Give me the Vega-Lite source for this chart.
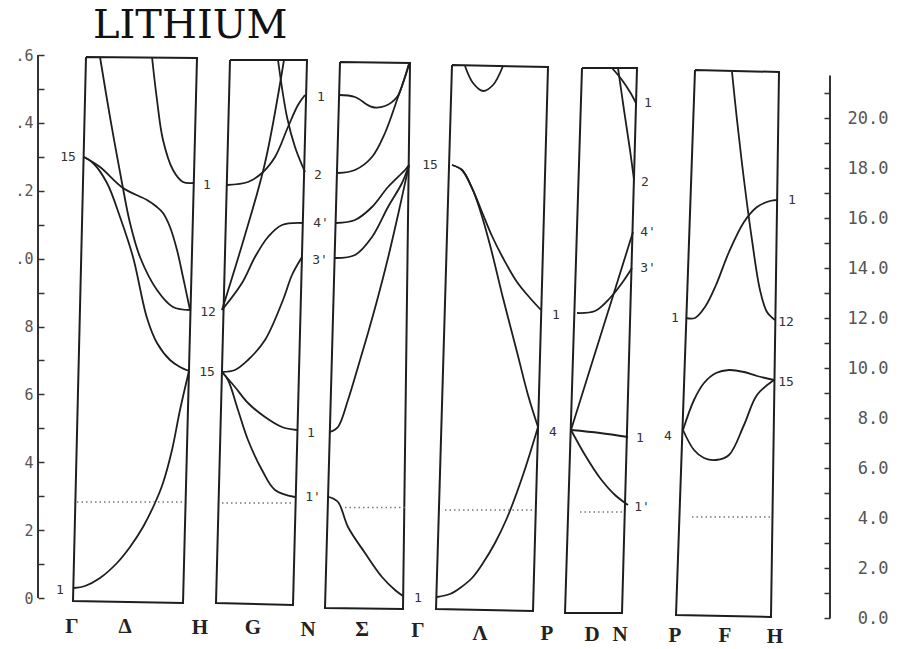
{
 "$schema": "https://vega.github.io/schema/vega-lite/v6.json",
 "width": 792, "height": 565,
 "autosize": {"type": "none"},
 "padding": {"left": 38, "top": 55, "right": 83, "bottom": 29},
 "background": "white",
 "config": {"view": {"stroke": null}},
 "datasets": {
  "axL": [{"k": 0, "e": 0, "e2": 1.6}],
  "axR": [{"k": 792, "e": 0, "e2": 21.7}],
  "ttl": [{"t": "LITHIUM", "k": 55, "e": 23.2}],
  "frames": [
   {"p": 1, "i": 0, "k": 48, "e": 22.44}, {"p": 1, "i": 1, "k": 159, "e": 22.40}, {"p": 1, "i": 2, "k": 145, "e": 0.60}, {"p": 1, "i": 3, "k": 35, "e": 0.68}, {"p": 1, "i": 4, "k": 48, "e": 22.44},
   {"p": 2, "i": 0, "k": 192, "e": 22.32}, {"p": 2, "i": 1, "k": 269, "e": 22.32}, {"p": 2, "i": 2, "k": 255, "e": 0.52}, {"p": 2, "i": 3, "k": 178, "e": 0.60}, {"p": 2, "i": 4, "k": 192, "e": 22.32},
   {"p": 3, "i": 0, "k": 302, "e": 22.24}, {"p": 3, "i": 1, "k": 372, "e": 22.20}, {"p": 3, "i": 2, "k": 365, "e": 0.36}, {"p": 3, "i": 3, "k": 287, "e": 0.40}, {"p": 3, "i": 4, "k": 302, "e": 22.24},
   {"p": 4, "i": 0, "k": 414, "e": 22.12}, {"p": 4, "i": 1, "k": 510, "e": 22.04}, {"p": 4, "i": 2, "k": 495, "e": 0.28}, {"p": 4, "i": 3, "k": 398, "e": 0.36}, {"p": 4, "i": 4, "k": 414, "e": 22.12},
   {"p": 5, "i": 0, "k": 544, "e": 22.00}, {"p": 5, "i": 1, "k": 599, "e": 22.00}, {"p": 5, "i": 2, "k": 584, "e": 0.20}, {"p": 5, "i": 3, "k": 527, "e": 0.20}, {"p": 5, "i": 4, "k": 544, "e": 22.00},
   {"p": 6, "i": 0, "k": 657, "e": 21.92}, {"p": 6, "i": 1, "k": 741, "e": 21.84}, {"p": 6, "i": 2, "k": 733, "e": 0.04}, {"p": 6, "i": 3, "k": 638, "e": 0.12}, {"p": 6, "i": 4, "k": 657, "e": 21.92}
  ],
  "bands": [
   {"c": 1, "i": 0, "k": 36, "e": 1.20}, {"c": 1, "i": 1, "k": 47, "e": 1.28}, {"c": 1, "i": 2, "k": 62, "e": 1.60}, {"c": 1, "i": 3, "k": 79, "e": 2.20}, {"c": 1, "i": 4, "k": 92, "e": 2.84}, {"c": 1, "i": 5, "k": 105, "e": 3.64}, {"c": 1, "i": 6, "k": 117, "e": 4.60}, {"c": 1, "i": 7, "k": 125, "e": 5.40}, {"c": 1, "i": 8, "k": 134, "e": 6.72}, {"c": 1, "i": 9, "k": 142, "e": 8.32}, {"c": 1, "i": 10, "k": 151, "e": 9.88},
   {"c": 2, "i": 0, "k": 46, "e": 18.44}, {"c": 2, "i": 1, "k": 55, "e": 18.20}, {"c": 2, "i": 2, "k": 69, "e": 17.40}, {"c": 2, "i": 3, "k": 82, "e": 16.04}, {"c": 2, "i": 4, "k": 95, "e": 14.44}, {"c": 2, "i": 5, "k": 109, "e": 12.00}, {"c": 2, "i": 6, "k": 119, "e": 11.00}, {"c": 2, "i": 7, "k": 132, "e": 10.32}, {"c": 2, "i": 8, "k": 142, "e": 10.04}, {"c": 2, "i": 9, "k": 151, "e": 9.88},
   {"c": 3, "i": 0, "k": 46, "e": 18.44}, {"c": 3, "i": 1, "k": 62, "e": 18.04}, {"c": 3, "i": 2, "k": 85, "e": 17.20}, {"c": 3, "i": 3, "k": 109, "e": 16.72}, {"c": 3, "i": 4, "k": 119, "e": 16.44}, {"c": 3, "i": 5, "k": 125, "e": 16.20}, {"c": 3, "i": 6, "k": 132, "e": 15.64}, {"c": 3, "i": 7, "k": 139, "e": 14.72}, {"c": 3, "i": 8, "k": 145, "e": 13.64}, {"c": 3, "i": 9, "k": 152, "e": 12.32},
   {"c": 4, "i": 0, "k": 62, "e": 22.44}, {"c": 4, "i": 1, "k": 72, "e": 20.04}, {"c": 4, "i": 2, "k": 84, "e": 17.40}, {"c": 4, "i": 3, "k": 92, "e": 15.80}, {"c": 4, "i": 4, "k": 102, "e": 14.44}, {"c": 4, "i": 5, "k": 119, "e": 13.12}, {"c": 4, "i": 6, "k": 135, "e": 12.44}, {"c": 4, "i": 7, "k": 152, "e": 12.32},
   {"c": 5, "i": 0, "k": 114, "e": 22.44}, {"c": 5, "i": 1, "k": 119, "e": 20.72}, {"c": 5, "i": 2, "k": 125, "e": 19.12}, {"c": 5, "i": 3, "k": 135, "e": 17.92}, {"c": 5, "i": 4, "k": 145, "e": 17.44}, {"c": 5, "i": 5, "k": 155, "e": 17.40},
   {"c": 6, "i": 0, "k": 189, "e": 17.32}, {"c": 6, "i": 1, "k": 210, "e": 17.44}, {"c": 6, "i": 2, "k": 224, "e": 17.80}, {"c": 6, "i": 3, "k": 237, "e": 18.44}, {"c": 6, "i": 4, "k": 250, "e": 19.64}, {"c": 6, "i": 5, "k": 260, "e": 20.52}, {"c": 6, "i": 6, "k": 267, "e": 20.92},
   {"c": 7, "i": 0, "k": 184, "e": 12.32}, {"c": 7, "i": 1, "k": 204, "e": 13.40}, {"c": 7, "i": 2, "k": 217, "e": 14.44}, {"c": 7, "i": 3, "k": 230, "e": 15.24}, {"c": 7, "i": 4, "k": 244, "e": 15.72}, {"c": 7, "i": 5, "k": 265, "e": 15.80},
   {"c": 8, "i": 0, "k": 184, "e": 12.32}, {"c": 8, "i": 1, "k": 207, "e": 15.32}, {"c": 8, "i": 2, "k": 227, "e": 18.20}, {"c": 8, "i": 3, "k": 246, "e": 22.32},
   {"c": 9, "i": 0, "k": 240, "e": 22.32}, {"c": 9, "i": 1, "k": 249, "e": 20.04}, {"c": 9, "i": 2, "k": 257, "e": 18.84}, {"c": 9, "i": 3, "k": 267, "e": 17.84},
   {"c": 10, "i": 0, "k": 184, "e": 9.84}, {"c": 10, "i": 1, "k": 197, "e": 9.92}, {"c": 10, "i": 2, "k": 210, "e": 10.32}, {"c": 10, "i": 3, "k": 227, "e": 11.12}, {"c": 10, "i": 4, "k": 245, "e": 12.72}, {"c": 10, "i": 5, "k": 254, "e": 13.72}, {"c": 10, "i": 6, "k": 264, "e": 14.44},
   {"c": 11, "i": 0, "k": 184, "e": 9.84}, {"c": 11, "i": 1, "k": 197, "e": 9.24}, {"c": 11, "i": 2, "k": 210, "e": 8.60}, {"c": 11, "i": 3, "k": 227, "e": 8.04}, {"c": 11, "i": 4, "k": 244, "e": 7.64}, {"c": 11, "i": 5, "k": 259, "e": 7.52},
   {"c": 12, "i": 0, "k": 184, "e": 9.84}, {"c": 12, "i": 1, "k": 190, "e": 9.52}, {"c": 12, "i": 2, "k": 200, "e": 8.32}, {"c": 12, "i": 3, "k": 210, "e": 7.12}, {"c": 12, "i": 4, "k": 224, "e": 5.92}, {"c": 12, "i": 5, "k": 237, "e": 5.12}, {"c": 12, "i": 6, "k": 257, "e": 4.84},
   {"c": 13, "i": 0, "k": 301, "e": 20.92}, {"c": 13, "i": 1, "k": 317, "e": 20.84}, {"c": 13, "i": 2, "k": 334, "e": 20.44}, {"c": 13, "i": 3, "k": 347, "e": 20.48}, {"c": 13, "i": 4, "k": 359, "e": 20.84}, {"c": 13, "i": 5, "k": 366, "e": 21.52}, {"c": 13, "i": 6, "k": 371, "e": 22.16},
   {"c": 14, "i": 0, "k": 300, "e": 17.80}, {"c": 14, "i": 1, "k": 317, "e": 17.92}, {"c": 14, "i": 2, "k": 334, "e": 18.44}, {"c": 14, "i": 3, "k": 347, "e": 19.40}, {"c": 14, "i": 4, "k": 359, "e": 20.72}, {"c": 14, "i": 5, "k": 366, "e": 21.52}, {"c": 14, "i": 6, "k": 371, "e": 22.16},
   {"c": 15, "i": 0, "k": 298, "e": 15.80}, {"c": 15, "i": 1, "k": 317, "e": 15.92}, {"c": 15, "i": 2, "k": 334, "e": 16.44}, {"c": 15, "i": 3, "k": 350, "e": 17.24}, {"c": 15, "i": 4, "k": 367, "e": 17.92}, {"c": 15, "i": 5, "k": 371, "e": 18.12},
   {"c": 16, "i": 0, "k": 297, "e": 14.40}, {"c": 16, "i": 1, "k": 317, "e": 14.52}, {"c": 16, "i": 2, "k": 334, "e": 15.24}, {"c": 16, "i": 3, "k": 350, "e": 16.44}, {"c": 16, "i": 4, "k": 364, "e": 17.40}, {"c": 16, "i": 5, "k": 371, "e": 18.12},
   {"c": 17, "i": 0, "k": 292, "e": 7.44}, {"c": 17, "i": 1, "k": 300, "e": 7.64}, {"c": 17, "i": 2, "k": 310, "e": 8.72}, {"c": 17, "i": 3, "k": 320, "e": 10.04}, {"c": 17, "i": 4, "k": 330, "e": 11.40}, {"c": 17, "i": 5, "k": 340, "e": 12.84}, {"c": 17, "i": 6, "k": 350, "e": 14.40}, {"c": 17, "i": 7, "k": 360, "e": 16.12}, {"c": 17, "i": 8, "k": 371, "e": 18.12},
   {"c": 18, "i": 0, "k": 291, "e": 4.84}, {"c": 18, "i": 1, "k": 300, "e": 4.64}, {"c": 18, "i": 2, "k": 310, "e": 3.64}, {"c": 18, "i": 3, "k": 327, "e": 2.60}, {"c": 18, "i": 4, "k": 344, "e": 1.64}, {"c": 18, "i": 5, "k": 357, "e": 1.12}, {"c": 18, "i": 6, "k": 365, "e": 0.88},
   {"c": 19, "i": 0, "k": 427, "e": 22.08}, {"c": 19, "i": 1, "k": 435, "e": 21.40}, {"c": 19, "i": 2, "k": 445, "e": 21.08}, {"c": 19, "i": 3, "k": 455, "e": 21.32}, {"c": 19, "i": 4, "k": 465, "e": 22.08},
   {"c": 20, "i": 0, "k": 414, "e": 18.12}, {"c": 20, "i": 1, "k": 424, "e": 17.92}, {"c": 20, "i": 2, "k": 434, "e": 17.20}, {"c": 20, "i": 3, "k": 444, "e": 16.24}, {"c": 20, "i": 4, "k": 454, "e": 15.28}, {"c": 20, "i": 5, "k": 465, "e": 14.40}, {"c": 20, "i": 6, "k": 479, "e": 13.44}, {"c": 20, "i": 7, "k": 492, "e": 12.80}, {"c": 20, "i": 8, "k": 503, "e": 12.32},
   {"c": 21, "i": 0, "k": 414, "e": 18.12}, {"c": 21, "i": 1, "k": 424, "e": 17.92}, {"c": 21, "i": 2, "k": 434, "e": 17.20}, {"c": 21, "i": 3, "k": 442, "e": 16.32}, {"c": 21, "i": 4, "k": 452, "e": 14.92}, {"c": 21, "i": 5, "k": 465, "e": 12.80}, {"c": 21, "i": 6, "k": 479, "e": 10.64}, {"c": 21, "i": 7, "k": 490, "e": 8.92}, {"c": 21, "i": 8, "k": 500, "e": 7.64},
   {"c": 22, "i": 0, "k": 399, "e": 0.84}, {"c": 22, "i": 1, "k": 412, "e": 0.96}, {"c": 22, "i": 2, "k": 422, "e": 1.20}, {"c": 22, "i": 3, "k": 434, "e": 1.60}, {"c": 22, "i": 4, "k": 445, "e": 2.20}, {"c": 22, "i": 5, "k": 457, "e": 3.00}, {"c": 22, "i": 6, "k": 469, "e": 4.00}, {"c": 22, "i": 7, "k": 485, "e": 5.72}, {"c": 22, "i": 8, "k": 500, "e": 7.64},
   {"c": 23, "i": 0, "k": 533, "e": 7.52}, {"c": 23, "i": 1, "k": 562, "e": 7.40}, {"c": 23, "i": 2, "k": 590, "e": 7.24},
   {"c": 24, "i": 0, "k": 533, "e": 7.52}, {"c": 24, "i": 1, "k": 547, "e": 6.52}, {"c": 24, "i": 2, "k": 562, "e": 5.60}, {"c": 24, "i": 3, "k": 577, "e": 4.92}, {"c": 24, "i": 4, "k": 590, "e": 4.52},
   {"c": 25, "i": 0, "k": 533, "e": 7.52}, {"c": 25, "i": 1, "k": 564, "e": 11.48}, {"c": 25, "i": 2, "k": 595, "e": 15.44},
   {"c": 26, "i": 0, "k": 539, "e": 12.20}, {"c": 26, "i": 1, "k": 557, "e": 12.28}, {"c": 26, "i": 2, "k": 572, "e": 12.80}, {"c": 26, "i": 3, "k": 584, "e": 13.40}, {"c": 26, "i": 4, "k": 594, "e": 14.00},
   {"c": 27, "i": 0, "k": 574, "e": 22.00}, {"c": 27, "i": 1, "k": 584, "e": 21.52}, {"c": 27, "i": 2, "k": 592, "e": 21.04}, {"c": 27, "i": 3, "k": 598, "e": 20.60},
   {"c": 28, "i": 0, "k": 580, "e": 22.00}, {"c": 28, "i": 1, "k": 586, "e": 20.32}, {"c": 28, "i": 2, "k": 592, "e": 18.72}, {"c": 28, "i": 3, "k": 596, "e": 17.52},
   {"c": 29, "i": 0, "k": 648, "e": 12.00}, {"c": 29, "i": 1, "k": 657, "e": 12.00}, {"c": 29, "i": 2, "k": 667, "e": 12.44}, {"c": 29, "i": 3, "k": 678, "e": 13.32}, {"c": 29, "i": 4, "k": 691, "e": 14.64}, {"c": 29, "i": 5, "k": 706, "e": 15.84}, {"c": 29, "i": 6, "k": 719, "e": 16.44}, {"c": 29, "i": 7, "k": 732, "e": 16.68}, {"c": 29, "i": 8, "k": 739, "e": 16.72},
   {"c": 30, "i": 0, "k": 694, "e": 21.84}, {"c": 30, "i": 1, "k": 699, "e": 19.92}, {"c": 30, "i": 2, "k": 706, "e": 17.52}, {"c": 30, "i": 3, "k": 714, "e": 15.12}, {"c": 30, "i": 4, "k": 722, "e": 13.12}, {"c": 30, "i": 5, "k": 729, "e": 12.24}, {"c": 30, "i": 6, "k": 737, "e": 11.92},
   {"c": 31, "i": 0, "k": 645, "e": 7.52}, {"c": 31, "i": 1, "k": 656, "e": 8.72}, {"c": 31, "i": 2, "k": 666, "e": 9.40}, {"c": 31, "i": 3, "k": 678, "e": 9.80}, {"c": 31, "i": 4, "k": 691, "e": 9.92}, {"c": 31, "i": 5, "k": 706, "e": 9.84}, {"c": 31, "i": 6, "k": 719, "e": 9.68}, {"c": 31, "i": 7, "k": 736, "e": 9.52},
   {"c": 32, "i": 0, "k": 645, "e": 7.52}, {"c": 32, "i": 1, "k": 656, "e": 6.72}, {"c": 32, "i": 2, "k": 666, "e": 6.40}, {"c": 32, "i": 3, "k": 678, "e": 6.32}, {"c": 32, "i": 4, "k": 691, "e": 6.52}, {"c": 32, "i": 5, "k": 706, "e": 7.72}, {"c": 32, "i": 6, "k": 719, "e": 8.92}, {"c": 32, "i": 7, "k": 736, "e": 9.52}
  ],
  "fermi": [
   {"k": 39, "k2": 145, "e": 4.64}, {"k": 184, "k2": 255, "e": 4.60}, {"k": 307, "k2": 367, "e": 4.42},
   {"k": 407, "k2": 495, "e": 4.32}, {"k": 542, "k2": 587, "e": 4.24}, {"k": 654, "k2": 732, "e": 4.04}
  ],
  "labels": [
   {"t": "15", "k": 30, "e": 18.44}, {"t": "1", "k": 22, "e": 1.12}, {"t": "1", "k": 169, "e": 17.32}, {"t": "12", "k": 170, "e": 12.24}, {"t": "15", "k": 169, "e": 9.84},
   {"t": "1", "k": 283, "e": 20.84}, {"t": "2", "k": 280, "e": 17.72}, {"t": "4'", "k": 283, "e": 15.80}, {"t": "3'", "k": 282, "e": 14.32}, {"t": "1", "k": 273, "e": 7.40}, {"t": "1'", "k": 275, "e": 4.84},
   {"t": "1", "k": 380, "e": 0.80}, {"t": "15", "k": 392, "e": 18.12}, {"t": "1", "k": 518, "e": 12.12}, {"t": "4", "k": 515, "e": 7.44},
   {"t": "1", "k": 610, "e": 20.60}, {"t": "2", "k": 607, "e": 17.44}, {"t": "4'", "k": 610, "e": 15.44}, {"t": "3'", "k": 610, "e": 14.00}, {"t": "1", "k": 602, "e": 7.20}, {"t": "1'", "k": 604, "e": 4.44},
   {"t": "1", "k": 637, "e": 12.00}, {"t": "4", "k": 630, "e": 7.28}, {"t": "1", "k": 754, "e": 16.72}, {"t": "12", "k": 748, "e": 11.84}, {"t": "15", "k": 748, "e": 9.44}
  ],
  "sym": [
   {"t": "Γ", "k": 34, "e": -0.36}, {"t": "Δ", "k": 87, "e": -0.36}, {"t": "H", "k": 162, "e": -0.40}, {"t": "G", "k": 215, "e": -0.40},
   {"t": "N", "k": 270, "e": -0.48}, {"t": "Σ", "k": 324, "e": -0.48}, {"t": "Γ", "k": 380, "e": -0.52}, {"t": "Λ", "k": 442, "e": -0.64},
   {"t": "P", "k": 509, "e": -0.64}, {"t": "D", "k": 554, "e": -0.68}, {"t": "N", "k": 582, "e": -0.68}, {"t": "P", "k": 637, "e": -0.72},
   {"t": "F", "k": 687, "e": -0.72}, {"t": "H", "k": 737, "e": -0.76}
  ]
 },
 "layer": [
  {
   "data": {"name": "axL"},
   "mark": {"type": "rule", "color": "#333", "strokeWidth": 2},
   "encoding": {
    "x": {"field": "k", "type": "quantitative", "scale": {"domain": [0, 792], "nice": false, "zero": false}, "axis": null},
    "y": {"field": "e", "type": "quantitative", "scale": {"domain": [-0.0648, 1.6], "nice": false, "zero": false},
     "axis": {"orient": "left", "values": [0, 0.1, 0.2, 0.3, 0.4, 0.5, 0.6, 0.7, 0.8, 0.9, 1.0, 1.1, 1.2, 1.3, 1.4, 1.5, 1.6],
      "domain": false, "grid": false, "offset": -6, "tickSize": 6, "tickColor": "#333", "tickWidth": 1.5,
      "labelExpr": "round(datum.value*10) % 2 == 1 ? '' : (datum.value > 0.95 ? '.' : '') + (round(datum.value*10) % 10)",
      "labelFont": "DejaVu Sans Mono", "labelFontSize": 15, "labelColor": "#555", "labelPadding": 5, "title": null}},
    "y2": {"field": "e2"}
   }
  },
  {
   "encoding": {
    "x": {"field": "k", "type": "quantitative", "scale": {"domain": [0, 792], "nice": false, "zero": false}, "axis": null},
    "y": {"field": "e", "type": "quantitative", "scale": {"domain": [-0.08, 22.52], "nice": false, "zero": false},
     "axis": {"orient": "right", "values": [0, 1, 2, 3, 4, 5, 6, 7, 8, 9, 10, 11, 12, 13, 14, 15, 16, 17, 18, 19, 20, 21],
      "domain": false, "grid": false, "offset": -6, "tickSize": 6, "tickColor": "#333", "tickWidth": 1.5,
      "labelExpr": "datum.value % 2 == 1 ? '' : format(datum.value, '.1f')",
      "labelFont": "DejaVu Sans Mono", "labelFontSize": 17, "labelColor": "#555", "labelAlign": "right", "labelPadding": 58, "title": null}}
   },
   "layer": [
    {"data": {"name": "frames"}, "mark": {"type": "line", "color": "#1e1e1e", "strokeWidth": 2},
     "encoding": {"detail": {"field": "p"}, "order": {"field": "i", "type": "quantitative"}}},
    {"data": {"name": "bands"}, "mark": {"type": "line", "color": "#1e1e1e", "strokeWidth": 1.8, "interpolate": "catmull-rom"},
     "encoding": {"detail": {"field": "c"}, "order": {"field": "i", "type": "quantitative"}}},
    {"data": {"name": "fermi"}, "mark": {"type": "rule", "color": "#777", "strokeWidth": 1.3, "strokeDash": [1.5, 3]},
     "encoding": {"x2": {"field": "k2"}}},
    {"data": {"name": "labels"}, "mark": {"type": "text", "font": "DejaVu Sans Mono", "fontSize": 13, "color": "#333", "align": "center", "baseline": "middle"},
     "encoding": {"text": {"field": "t"}}},
    {"data": {"name": "sym"}, "mark": {"type": "text", "font": "Liberation Serif", "fontSize": 21, "fontWeight": "bold", "color": "#222", "align": "center", "baseline": "middle"},
     "encoding": {"text": {"field": "t"}}},
    {"data": {"name": "ttl"}, "mark": {"type": "text", "font": "DejaVu Serif", "fontSize": 40, "color": "#111", "align": "left", "baseline": "alphabetic"},
     "encoding": {"text": {"field": "t"}}},
    {"data": {"name": "axR"}, "mark": {"type": "rule", "color": "#333", "strokeWidth": 2},
     "encoding": {"y2": {"field": "e2"}}}
   ]
  }
 ],
 "resolve": {"scale": {"y": "independent"}, "axis": {"y": "independent"}}
}
